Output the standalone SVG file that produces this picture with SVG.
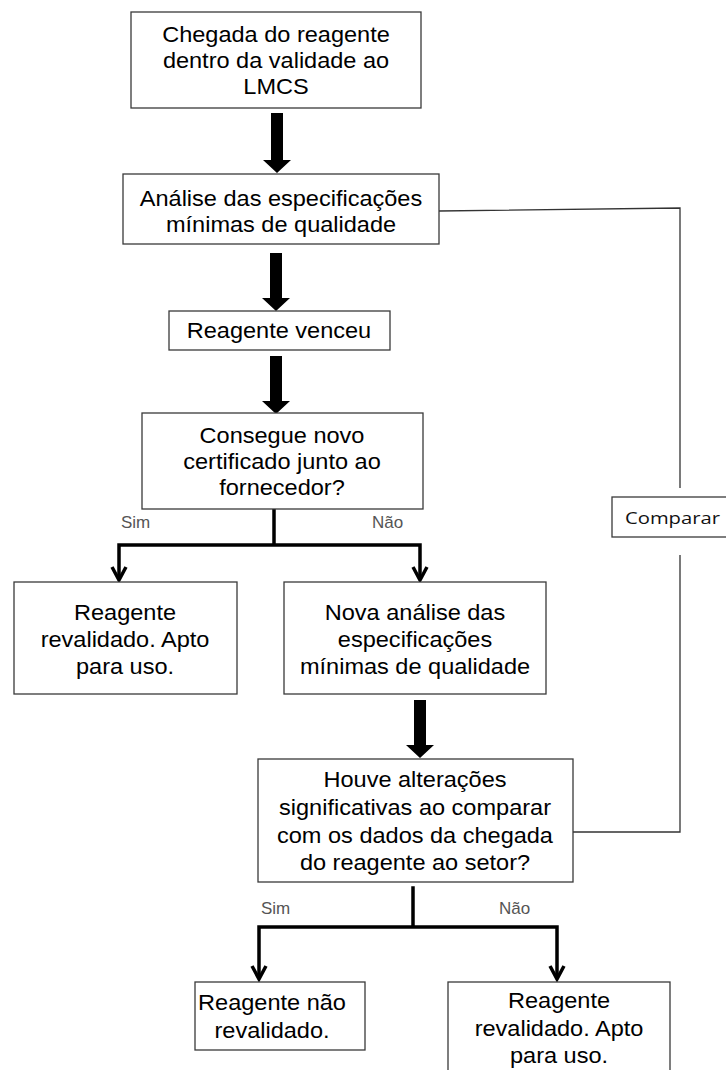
<svg xmlns="http://www.w3.org/2000/svg" width="726" height="1070" viewBox="0 0 726 1070">
<style>
.box{fill:#fff;stroke:#3a3a3a;stroke-width:1.3}
.t{font-family:"Liberation Sans",Arial,sans-serif;font-size:22px;fill:#000;text-anchor:middle}
.lbl{font-family:"Liberation Sans",Arial,sans-serif;font-size:17px;fill:#555}
.thin{fill:none;stroke:#333;stroke-width:1.3}
.br{fill:none;stroke:#000;stroke-width:3.5;stroke-linecap:square}
.hd{fill:none;stroke:#000;stroke-width:3.5;stroke-linejoin:miter}
.big{fill:#000}
</style>
<g id="connectors">
<path class="big" d="M271,113 H283 V160 H291 L277,173 L263,160 H271 Z"/>
<path class="big" d="M270,253 H282 V298 H290 L276,311 L262,298 H270 Z"/>
<path class="big" d="M270,356 H282 V401 H290 L276,414 L262,401 H270 Z"/>
<path class="big" d="M414,700 H426 V745 H434 L420,758 L406,745 H414 Z"/>
<polyline class="thin" points="439,211 680,208 680,488"/>
<polyline class="thin" points="680,555 680,832 573,832"/>
<path class="br" d="M274,509 V545 M119,545 H420 M119,545 V578 M420,545 V578"/>
<path class="hd" d="M112,567 L119,580 L126,567 M413,567 L420,580 L427,567"/>
<path class="br" d="M413,888 V927 M259,927 H557 M259,927 V976 M557,927 V976"/>
<path class="hd" d="M252,966 L259,979 L266,966 M550,966 L557,979 L564,966"/>
<text class="lbl" x="121" y="528">Sim</text>
<text class="lbl" x="372" y="528">Não</text>
<text class="lbl" x="261" y="914">Sim</text>
<text class="lbl" x="499" y="914">Não</text>
</g>
<g id="n1">
<rect class="box" x="131" y="12" width="290" height="96"/>
<g transform="translate(276 0) scale(1.07 1)">
<text class="t" x="0" y="42">Chegada do reagente</text>
<text class="t" x="0" y="68">dentro da validade ao</text>
<text class="t" x="0" y="94">LMCS</text>
</g>
</g>
<g id="n2">
<rect class="box" x="123" y="174" width="316" height="70"/>
<g transform="translate(281 0) scale(1.07 1)">
<text class="t" x="0" y="206">Análise das especificações</text>
<text class="t" x="0" y="232">mínimas de qualidade</text>
</g>
</g>
<g id="n3">
<rect class="box" x="169" y="311" width="221" height="39"/>
<g transform="translate(279 0) scale(1.07 1)">
<text class="t" x="0" y="338">Reagente venceu</text>
</g>
</g>
<g id="n4">
<rect class="box" x="142" y="413" width="281" height="96"/>
<g transform="translate(282 0) scale(1.07 1)">
<text class="t" x="0" y="443">Consegue novo</text>
<text class="t" x="0" y="469">certificado junto ao</text>
<text class="t" x="0" y="495">fornecedor?</text>
</g>
</g>
<g id="n5">
<rect class="box" x="14" y="582" width="223" height="112"/>
<g transform="translate(125 0) scale(1.07 1)">
<text class="t" x="0" y="620">Reagente</text>
<text class="t" x="0" y="647">revalidado. Apto</text>
<text class="t" x="0" y="674">para uso.</text>
</g>
</g>
<g id="n6">
<rect class="box" x="284" y="582" width="262" height="112"/>
<g transform="translate(415 0) scale(1.07 1)">
<text class="t" x="0" y="620">Nova análise das</text>
<text class="t" x="0" y="647">especificações</text>
<text class="t" x="0" y="674">mínimas de qualidade</text>
</g>
</g>
<g id="n7">
<rect class="box" x="258" y="759" width="315" height="123"/>
<g transform="translate(415 0) scale(1.07 1)">
<text class="t" x="0" y="787">Houve alterações</text>
<text class="t" x="0" y="815">significativas ao comparar</text>
<text class="t" x="0" y="843">com os dados da chegada</text>
<text class="t" x="0" y="870">do reagente ao setor?</text>
</g>
</g>
<g id="n8">
<rect class="box" x="195" y="982" width="170" height="68"/>
<g transform="translate(272 0) scale(1.07 1)">
<text class="t" x="0" y="1010">Reagente não</text>
<text class="t" x="0" y="1038">revalidado.</text>
</g>
</g>
<g id="n9">
<rect class="box" x="448" y="982" width="222" height="100"/>
<g transform="translate(559 0) scale(1.07 1)">
<text class="t" x="0" y="1008">Reagente</text>
<text class="t" x="0" y="1036">revalidado. Apto</text>
<text class="t" x="0" y="1063">para uso.</text>
</g>
</g>
<g id="n10">
<rect class="box" x="612" y="497" width="130" height="40"/>
<text x="625" y="524" textLength="95" lengthAdjust="spacingAndGlyphs" style="font-family:'Open Sans','Liberation Sans',sans-serif;font-size:17px;fill:#111">Comparar</text>
</g>
</svg>
